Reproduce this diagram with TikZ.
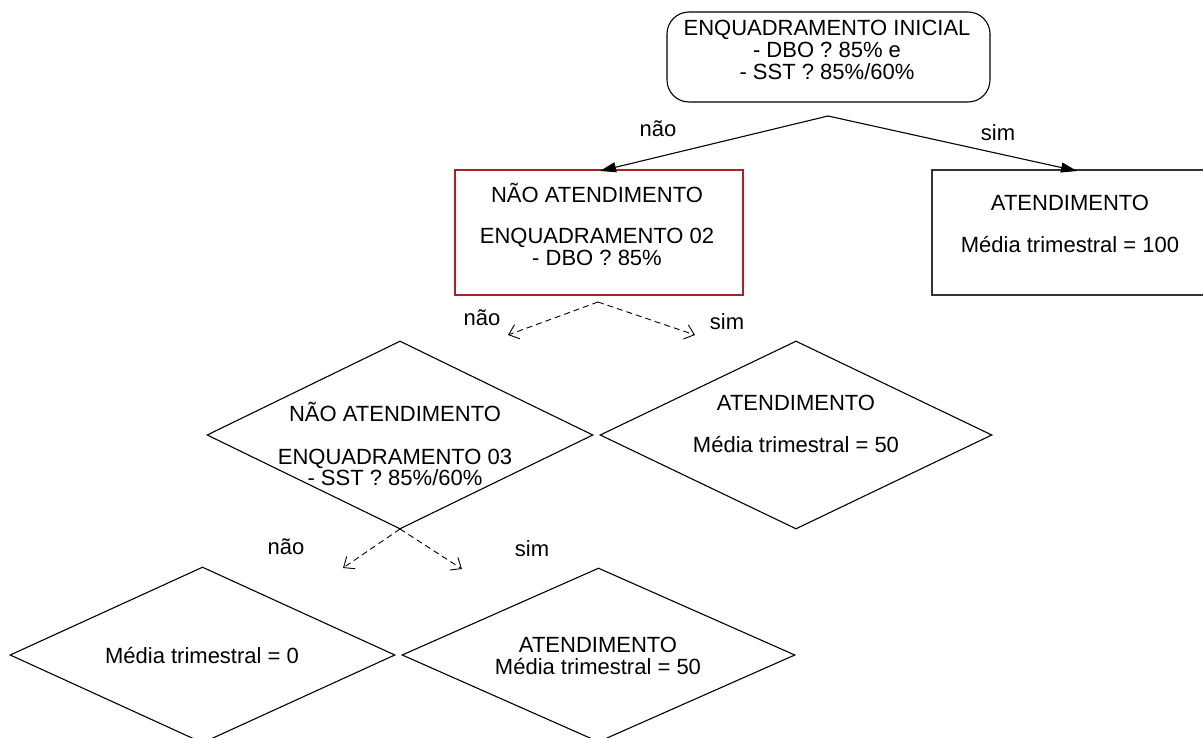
\documentclass[tikz,border=0pt]{standalone}
\usepackage{fontspec}
\setmainfont{Liberation Sans}
\usetikzlibrary{shapes.geometric,arrows.meta}
\definecolor{boxred}{RGB}{170,35,35}
\definecolor{boxgray}{RGB}{50,50,50}
\tikzset{
  txt/.style={align=center,inner sep=0pt,font=\fontsize{22}{21.5}\selectfont},
  lbl/.style={inner sep=0pt,font=\fontsize{22}{21.5}\selectfont},
  roundbox/.style={draw,line width=1.1pt,rounded corners=22pt,inner sep=0pt},
  redbox/.style={draw=boxred,line width=1.4pt,inner sep=0pt},
  graybox/.style={draw=boxgray,line width=1.2pt,inner sep=0pt},
  dia/.style={diamond,draw,line width=1.1pt,inner sep=0pt},
  solidarrow/.style={line width=1.1pt,-{Triangle[length=16pt,width=10pt]}},
  dasharrow/.style={line width=0.9pt,dash pattern=on 6pt off 4pt,-{Straight Barb[length=9pt,width=15pt]}},
}
\begin{document}
\begin{tikzpicture}[x=1pt,y=-1pt]
\useasboundingbox (0,0) rectangle (1203,738);
\clip (0,0) rectangle (1203,738);

% top box
\node[roundbox,minimum width=323pt,minimum height=90pt] (init) at (828.5,57) {};
\node[txt,font=\fontsize{22}{22}\selectfont] (initt) at (827,50) {ENQUADRAMENTO INICIAL\\- DBO ? 85\% e\\- SST ? 85\%/60\%};

% second level boxes
\node[redbox,minimum width=288pt,minimum height=125pt] (enq2) at (599,232.5) {};
\node[txt] (enq2t) at (597,224) {NÃO ATENDIMENTO\\[20pt]ENQUADRAMENTO 02\\- DBO ? 85\%};
\node[graybox,minimum width=290pt,minimum height=125pt] (at100) at (1077,232.5) {};
\node[txt] (at100t) at (1070,224) {ATENDIMENTO\\[21pt]Média trimestral = 100};

% third level diamonds
\node[dia,minimum width=386pt,minimum height=188pt] (enq3) at (400,435) {};
\node[txt] (enq3t) at (395,444) {NÃO ATENDIMENTO\\[21pt]ENQUADRAMENTO 03\\- SST ? 85\%/60\%};
\node[dia,minimum width=392pt,minimum height=188pt] (at50a) at (796,435) {};
\node[txt] (at50at) at (796,424) {ATENDIMENTO\\[21pt]Média trimestral = 50};

% fourth level diamonds
\node[dia,minimum width=385pt,minimum height=176pt] (m0) at (202.5,655) {};
\node[txt] (m0t) at (202,656) {Média trimestral = 0};
\node[dia,minimum width=393pt,minimum height=174pt] (at50b) at (598.5,655) {};
\node[txt] (at50bt) at (598,656) {ATENDIMENTO\\Média trimestral = 50};

% connector points
\coordinate (o1) at (828,116);
\coordinate (t1a) at (600,171);
\coordinate (t1b) at (1077,171);
\coordinate (o2) at (598,302);
\coordinate (t2a) at (508,335);
\coordinate (t2b) at (695,335);
\coordinate (o3) at (400,529);
\coordinate (t3a) at (343,568);
\coordinate (t3b) at (462,569);

\draw[solidarrow] (o1) -- (t1a);
\draw[solidarrow] (o1) -- (t1b);
\draw[dasharrow] (o2) -- (t2a);
\draw[dasharrow] (o2) -- (t2b);
\draw[dasharrow] (o3) -- (t3a);
\draw[dasharrow] (o3) -- (t3b);

% labels
\node[lbl] (l1a) at (658,129) {não};
\node[lbl] (l1b) at (998,133) {sim};
\node[lbl] (l2a) at (482,318) {não};
\node[lbl] (l2b) at (727,322) {sim};
\node[lbl] (l3a) at (286,547) {não};
\node[lbl] (l3b) at (532,549) {sim};
\end{tikzpicture}
\end{document}
